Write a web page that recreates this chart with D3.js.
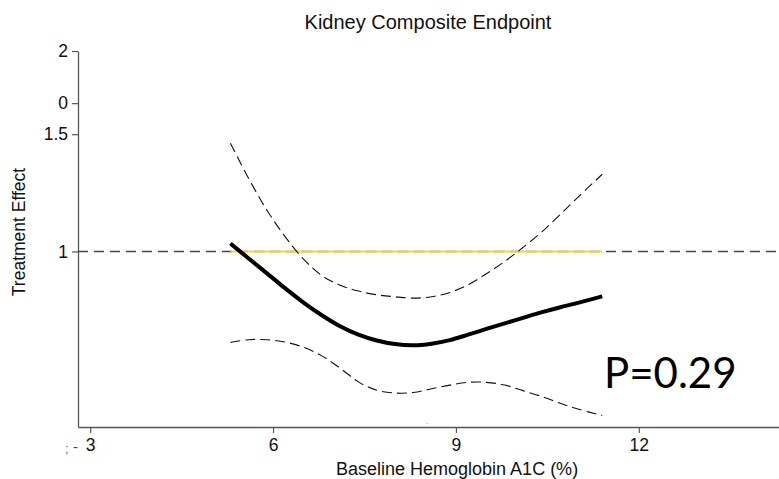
<!DOCTYPE html>
<html>
<head>
<meta charset="utf-8">
<script src="https://cdn.jsdelivr.net/npm/d3@7"></script>
<style>
  body { margin: 0; background: #fff; }
  svg { display: block; font-family: "Liberation Sans", Arial, sans-serif; }
</style>
</head>
<body>
<div id="chart"></div>
<script>
// Chart data
const hba1c = [5.3, 5.6, 5.9, 6.2, 6.5, 6.8, 7.1, 7.4, 7.7, 8.0, 8.3, 8.6, 8.9, 9.2, 9.5, 9.8, 10.1, 10.4, 10.7, 11.0, 11.4];
const effect = [1.028, 0.976, 0.927, 0.880, 0.838, 0.802, 0.772, 0.750, 0.735, 0.726, 0.723, 0.727, 0.736, 0.750, 0.765, 0.780, 0.795, 0.810, 0.824, 0.837, 0.856];
const upperCI = [1.454, 1.287, 1.153, 1.052, 0.974, 0.920, 0.890, 0.872, 0.861, 0.855, 0.851, 0.855, 0.868, 0.891, 0.926, 0.966, 1.014, 1.068, 1.134, 1.206, 1.306];
const lowerCI = [0.730, 0.737, 0.737, 0.731, 0.718, 0.697, 0.668, 0.637, 0.619, 0.613, 0.614, 0.622, 0.630, 0.636, 0.636, 0.630, 0.618, 0.606, 0.592, 0.580, 0.567];

const xTicks = [3, 6, 9, 12];
const yTickValues = [2, 1.67, 1.5, 1];
const yTickLabels = ["2", "0", "1.5", "1"];
const refValue = 1;
const highlightRange = [5.3, 11.4];

const width = 779, height = 479;
const plotLeft = 78, plotRight = 779, plotTop = 51, plotBottom = 427;

const svg = d3.select('#chart').append('svg')
    .attr('width', width)
    .attr('height', height);

const x = d3.scaleLinear().domain([2.8, 14.3]).range([plotLeft, plotRight]);
const y = d3.scaleLog().domain([0.545, 2.0]).range([plotBottom, plotTop]);

// Title
svg.append('text')
    .attr('x', 428).attr('y', 29)
    .attr('text-anchor', 'middle')
    .attr('font-size', 20)
    .attr('fill', '#111')
    .text('Kidney Composite Endpoint');

// Axes
const xAxis = svg.append('g')
    .attr('transform', `translate(0,${plotBottom})`)
    .call(d3.axisBottom(x).tickValues(xTicks).tickSize(6).tickPadding(6).tickSizeOuter(0));

const yAxis = svg.append('g')
    .attr('transform', `translate(${plotLeft},0)`)
    .call(d3.axisLeft(y).tickValues(yTickValues).tickFormat((d, i) => yTickLabels[i]).tickSize(6).tickPadding(4).tickSizeOuter(0));

[xAxis, yAxis].forEach(g => {
    g.attr('font-size', 17.5).attr('font-family', '"Liberation Sans", Arial, sans-serif');
    g.select('.domain').attr('stroke', '#555').attr('stroke-width', 1.3);
    g.selectAll('.tick line').attr('stroke', '#555').attr('stroke-width', 1.2);
    g.selectAll('.tick text').attr('fill', '#111');
});

// Axis titles
svg.append('text')
    .attr('x', 336).attr('y', 475)
    .attr('font-size', 18)
    .attr('fill', '#111')
    .text('Baseline Hemoglobin A1C (%)');

svg.append('text')
    .attr('transform', 'translate(25,232) rotate(-90)')
    .attr('text-anchor', 'middle')
    .attr('font-size', 17.5)
    .attr('fill', '#111')
    .text('Treatment Effect');

// small stray marks seen in the reference
svg.append('text')
    .attr('x', 65).attr('y', 453)
    .attr('font-size', 13)
    .attr('fill', '#666')
    .text(';');
svg.append('text')
    .attr('x', 73).attr('y', 452)
    .attr('font-size', 15)
    .attr('fill', '#444')
    .text('-');
svg.append('text')
    .attr('x', 426).attr('y', 424)
    .attr('font-size', 8)
    .attr('fill', '#666')
    .text('.');

// Reference line at 1
svg.append('line')
    .attr('x1', plotLeft).attr('x2', plotRight)
    .attr('y1', y(refValue)).attr('y2', y(refValue))
    .attr('stroke', '#444')
    .attr('stroke-width', 1.6)
    .attr('stroke-dasharray', '10,6');

svg.append('line')
    .attr('x1', x(highlightRange[0])).attr('x2', x(highlightRange[1]))
    .attr('y1', y(refValue)).attr('y2', y(refValue))
    .attr('stroke', '#f3d23c')
    .attr('stroke-width', 2);

// Curves
const line = d3.line()
    .x(d => x(d[0]))
    .y(d => y(d[1]))
    .curve(d3.curveCatmullRom);

svg.append('path')
    .datum(d3.zip(hba1c, upperCI))
    .attr('d', line)
    .attr('fill', 'none')
    .attr('stroke', '#111')
    .attr('stroke-width', 1.1)
    .attr('stroke-dasharray', '10,5');

svg.append('path')
    .datum(d3.zip(hba1c, lowerCI))
    .attr('d', line)
    .attr('fill', 'none')
    .attr('stroke', '#111')
    .attr('stroke-width', 1.1)
    .attr('stroke-dasharray', '10,5');

svg.append('path')
    .datum(d3.zip(hba1c, effect))
    .attr('d', line)
    .attr('fill', 'none')
    .attr('stroke', '#000')
    .attr('stroke-width', 4);

// P value annotation
svg.append('text')
    .attr('x', 604).attr('y', 388)
    .attr('font-size', 42)
    .attr('fill', '#000')
    .style('font-family', 'Lato, "Open Sans", sans-serif')
    .text('P=0.29');
</script>
</body>
</html>
